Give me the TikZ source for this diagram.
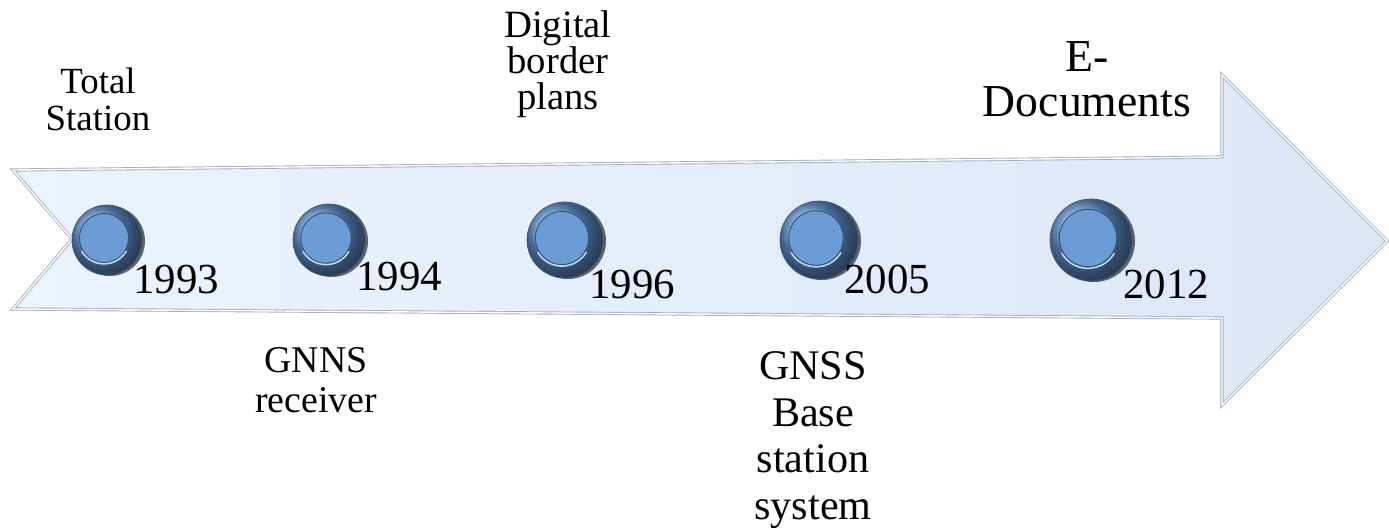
\documentclass[tikz,border=0pt]{standalone}
\usepackage{fontspec}
\setmainfont{Liberation Serif}
\usepackage{tikz}
\definecolor{ringblue}{HTML}{6393CF}
\definecolor{discblue}{HTML}{6C9CD6}
\definecolor{arrowedge}{HTML}{A3AEBF}
\definecolor{arrowleft}{HTML}{EBF3FD}
\definecolor{arrowright}{HTML}{DCE6F6}
\tikzset{
  arrowbody/.style = {left color=arrowleft, right color=arrowright, draw=arrowedge, line width=0.5pt, double=white, double distance=0.8pt, line join=miter},
  yeardot/.style = {circle, inner sep=0pt, ball color=ringblue, draw=ringblue!60!black, line width=0.4pt},
  yeartext/.style = {anchor=base west, inner sep=0pt, font=\fontsize{24.4pt}{27pt}\selectfont},
  milestone/.style = {align=center, inner sep=0pt}
}

\begin{document}
\begin{tikzpicture}[x=0.02cm, y=-0.02cm]
  \useasboundingbox (0,0) rectangle (1389,529);
  % the timeline arrow
  \coordinate (tailtop) at (13,170);
  \coordinate (bodytop) at (1222,157);
  \coordinate (headtop) at (1222,75);
  \coordinate (tip) at (1387,241);
  \coordinate (headbot) at (1222,405);
  \coordinate (bodybot) at (1222,318);
  \coordinate (tailbot) at (13,309);
  \coordinate (notch) at (72,239);
  \draw[arrowbody] (tailtop) -- (bodytop) -- (headtop) -- (tip) -- (headbot)
    -- (bodybot) -- (tailbot) -- (notch) -- cycle;
  % dots on the timeline
  \foreach \yr/\x/\r in {1993/107/35, 1994/329/36, 1996/565/38, 2005/819/39, 2012/1091/41}{
    \fill[black!80, opacity=0.75] (\x+3,240+1) circle (\r);
    \node[yeardot, minimum size=2*\r*0.02cm] (d\yr) at (\x,240) {};
    \fill[discblue, draw=ringblue!55!black, line width=0.5pt] (d\yr.center) ++(-3,-2) circle (0.7*\r);
    \draw[white!60!discblue, line width=0.9pt] (d\yr.center) ++(-3,-2) ++(30:0.74*\r) arc (30:150:0.74*\r);
  }
  % years
  \node[yeartext] (y1993) at (133,293) {1993};
  \node[yeartext] (y1994) at (356,290) {1994};
  \node[yeartext] (y1996) at (589,298) {1996};
  \node[yeartext] (y2005) at (844,293) {2005};
  \node[yeartext] (y2012) at (1123,298) {2012};
  % milestones above and below
  \node[milestone, font=\fontsize{21pt}{21pt}\selectfont] (total) at (98,99) {Total\\Station};
  \node[milestone, font=\fontsize{22pt}{20.5pt}\selectfont] (digital) at (558,64) {Digital\\border\\plans};
  \node[milestone, font=\fontsize{26pt}{25.5pt}\selectfont] (edocs) at (1087,79.5) {E-\\Documents};
  \node[milestone, font=\fontsize{21.5pt}{22.7pt}\selectfont] (gnns) at (316,380) {GNNS\\receiver};
  \node[milestone, font=\fontsize{24pt}{26.5pt}\selectfont] (gnss) at (813,440) {GNSS\\Base\\station\\system};
\end{tikzpicture}
\end{document}
